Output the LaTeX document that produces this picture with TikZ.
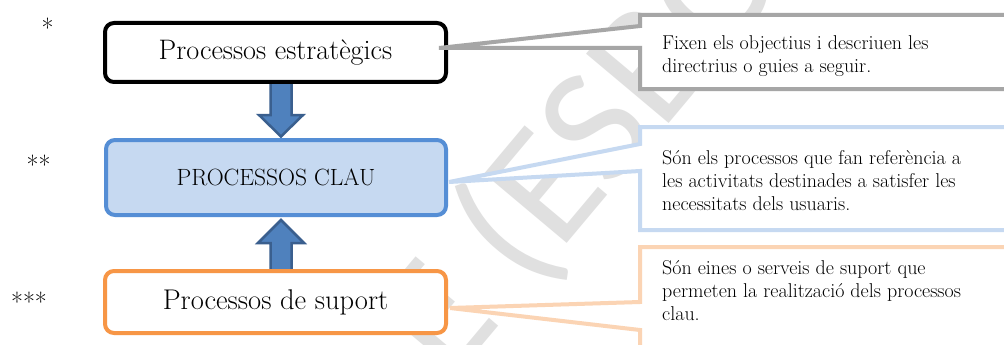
\documentclass[tikz,border=0pt]{standalone}
\usepackage{fontspec}
\newfontfamily\wmfont{Carlito}
\usetikzlibrary{calc}
\definecolor{wmgray}{HTML}{E0E0E0}
\definecolor{cgray}{HTML}{A6A6A6}
\definecolor{cblue}{HTML}{C6D9F1}
\definecolor{corange}{HTML}{FBD4B4}
\definecolor{bblue}{HTML}{558ED5}
\definecolor{bfill}{HTML}{C6D9F1}
\definecolor{borange}{HTML}{F79646}
\definecolor{afill}{HTML}{4F81BD}
\definecolor{aline}{HTML}{3A5F8E}
\tikzset{
  procbox/.style={rectangle, rounded corners=9pt, line width=4pt, fill=white, inner sep=0pt, minimum width=341pt},
  blockarrow/.style={fill=afill, draw=aline, line width=2.5pt, line join=miter},
  callout/.style={fill=white, line width=4pt, line join=miter},
  ctext/.style={anchor=base west, align=left, inner sep=0pt, font=\fontsize{20}{23}\selectfont},
  stars/.style={inner sep=0pt, anchor=base, font=\fontsize{26}{30}\selectfont},
  wm/.style={text=wmgray, inner sep=0pt, font=\wmfont\fontsize{168}{168}\selectfont}
}
\begin{document}
\begin{tikzpicture}[x=1pt,y=-1pt]
\useasboundingbox (0,0) rectangle (1004,345);
\fill[white] (0,0) rectangle (1004,345);
% watermark
\node[wm, rotate=50, anchor=base west] (wmark) at (450,384) {E (ESBORRANY)};
% boxes (positions)
\path (275.5,52.5) coordinate (c1) (276,177.5) coordinate (c2) (275.5,302) coordinate (c3);
% block arrows
\draw[blockarrow] ($(c1)+(-5,29.5)$) -- ($(c1)+(-5,62.5)$) -- ($(c1)+(-16.5,62.5)$) -- ($(c1)+(5.5,84)$)
  -- ($(c1)+(27.5,62.5)$) -- ($(c1)+(16,62.5)$) -- ($(c1)+(16,29.5)$);
\draw[blockarrow] ($(c3)+(-5,-31)$) -- ($(c3)+(-5,-59)$) -- ($(c3)+(-17.5,-59)$) -- ($(c3)+(5.5,-82)$)
  -- ($(c3)+(28.5,-59)$) -- ($(c3)+(16,-59)$) -- ($(c3)+(16,-31)$);
\node[procbox, draw=black, minimum height=59pt, font=\fontsize{28.2}{32}\selectfont] (b1) at (c1) {Processos estratègics};
\node[procbox, draw=bblue, fill=bfill, minimum width=340pt, minimum height=75pt, font=\fontsize{23.5}{28}\selectfont] (b2) at (c2) {PROCESSOS CLAU};
\node[procbox, draw=borange, minimum height=62pt, font=\fontsize{28.5}{32}\selectfont] (b3) at (c3) {Processos de suport};
% asterisks
\node[stars] (s1) at (47.5,38) {*};
\node[stars] (s2) at (38.5,174) {**};
\node[stars] (s3) at (29,311) {***};
% callouts
\coordinate (tip1) at ($(b1.east)+(-9,-4.5)$);
\coordinate (tip2) at ($(b2.east)+(1,4.5)$);
\coordinate (tip3) at ($(b3.east)+(2,6)$);
\draw[callout, draw=cgray] (1012,15) -- (640,15) -- (640,26) -- (tip1) -- (640,48) -- (640,89) -- (1012,89);
\draw[callout, draw=cblue] (1012,127) -- (640,127) -- (640,144) -- (tip2) -- (640,171) -- (640,230) -- (1012,230);
\draw[callout, draw=corange] (1012,247) -- (640,247) -- (640,302) -- (tip3) -- (640,330) -- (640,352) -- (1012,352);
\node[ctext] (t1) at (662,73) {Fixen els objectius i descriuen les\\directrius o guies a seguir.};
\node[ctext] (t2) at (662,210) {Són els processos que fan referència a\\les activitats destinades a satisfer les\\necessitats dels usuaris.};
\node[ctext] (t3) at (662,320) {Són eines o serveis de suport que\\permeten la realització dels processos\\clau.};
\end{tikzpicture}
\end{document}
